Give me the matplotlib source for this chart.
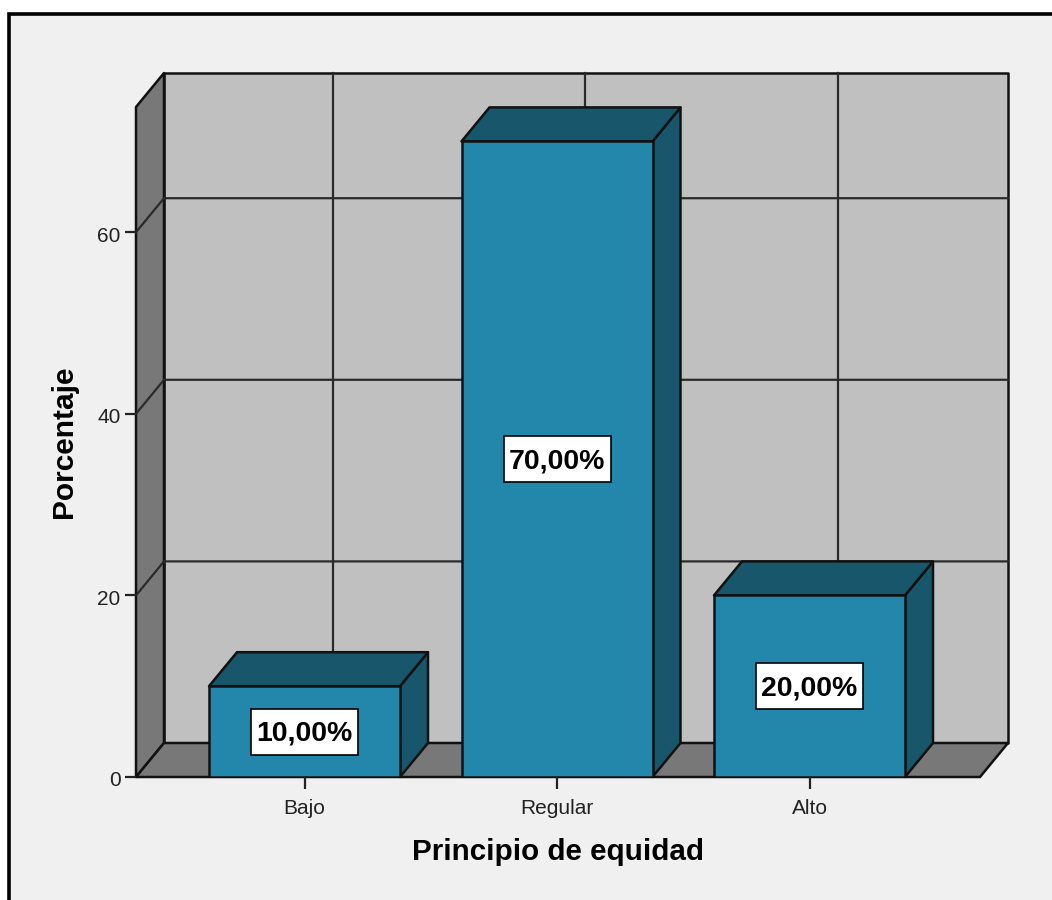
import matplotlib
matplotlib.use("Agg")
import matplotlib.pyplot as plt
from matplotlib.patches import Polygon, Rectangle
from matplotlib.transforms import ScaledTranslation

# ================= DATA =================
categories = ["Bajo", "Regular", "Alto"]
values = [10, 70, 20]
bar_labels = ["10,00%", "70,00%", "20,00%"]
y_ticks = [0, 20, 40, 60]
# ========================================

W, H = 1052, 900
DEPTH_X_PX, DEPTH_Y_PX = 28, 34
PX_PER_CAT = 252.5
PX_PER_UNIT = 9.08
LEFT, RIGHT, TOP, BOTTOM = 136, 980, 107, 777

BG = "#f0f0f0"
WALL = "#c0c0c0"
SIDE = "#787878"
FRONT = "#2387ab"
DARK = "#17566b"
LINE = "#111111"

plt.rcParams["font.family"] = ["Liberation Sans", "DejaVu Sans"]

fig = plt.figure(figsize=(W / 100, H / 100), dpi=100, facecolor="white")
fig.add_artist(Rectangle((8.5 / W, -0.01), 1.1, 1 - 13.5 / H + 0.01, transform=fig.transFigure,
                         facecolor=BG, edgecolor="black", linewidth=2.6, zorder=-1))

ax = fig.add_axes([LEFT / W, 1 - BOTTOM / H, (RIGHT - LEFT) / W, (BOTTOM - TOP) / H])
ax.patch.set_visible(False)
x0 = (LEFT - 304.5) / PX_PER_CAT
x1 = (RIGHT - 304.5) / PX_PER_CAT
ymax = (BOTTOM - TOP) / PX_PER_UNIT
ax.set_xlim(x0, x1)
ax.set_ylim(0, ymax)
dx = DEPTH_X_PX / PX_PER_CAT
dy = DEPTH_Y_PX / PX_PER_UNIT
bar_w = 191 / PX_PER_CAT
box_w = 107 / PX_PER_CAT
box_h = 46 / PX_PER_UNIT
text_shift = 2 / PX_PER_UNIT


def poly(points, color, z, lw=1.8):
    ax.add_patch(Polygon(points, closed=True, facecolor=color, edgecolor=LINE, linewidth=lw,
                         joinstyle="round", zorder=z, clip_on=False))


# back wall, side wall, floor
poly([(x0 + dx, dy), (x1 + dx, dy), (x1 + dx, ymax + dy), (x0 + dx, ymax + dy)], WALL, 1)
poly([(x0, 0), (x0 + dx, dy), (x0 + dx, ymax + dy), (x0, ymax)], SIDE, 1)
poly([(x0, 0), (x1, 0), (x1 + dx, dy), (x0 + dx, dy)], SIDE, 1)

for t in y_ticks[1:]:
    ax.plot([x0, x0 + dx, x1 + dx], [t, t + dy, t + dy], color="#2a2a2a", lw=1.6, zorder=2, clip_on=False)
for i in range(len(categories)):
    ax.plot([i + dx, i + dx], [dy, ymax + dy], color="#2a2a2a", lw=1.6, zorder=2, clip_on=False)

for i, (v, lab) in enumerate(zip(values, bar_labels)):
    a, b = i - bar_w / 2, i + bar_w / 2
    z = 3 + i
    poly([(b, 0), (b + dx, dy), (b + dx, v + dy), (b, v)], DARK, z)
    poly([(a, v), (b, v), (b + dx, v + dy), (a + dx, v + dy)], DARK, z)
    ax.bar(i, v, width=bar_w, color=FRONT, edgecolor=LINE, linewidth=1.8, zorder=z + 0.1)
    ax.add_patch(Rectangle((i - box_w / 2, v / 2 - box_h / 2), box_w, box_h, facecolor="white",
                           edgecolor="black", linewidth=1.2, zorder=9))
    ax.text(i, v / 2 - text_shift, lab, ha="center", va="center", fontsize=20.4, fontweight="bold",
            color="black", zorder=10)

for s in ax.spines.values():
    s.set_visible(False)
ax.set_xticks(range(len(categories)))
ax.set_xticklabels(categories)
ax.set_yticks(y_ticks)
ax.tick_params(axis="x", length=8.5, width=1.6, color="#222222", labelsize=15, pad=7.5, labelcolor="#222222")
ax.tick_params(axis="y", length=8, width=1.6, color="#222222", labelsize=15, pad=3, labelcolor="#222222")
for label in ax.get_yticklabels():
    label.set_transform(label.get_transform() + ScaledTranslation(0, -2 / 100, fig.dpi_scale_trans))

fig.text(557.5 / W, 1 - 852 / H, "Principio de equidad", ha="center", va="center", fontsize=21.3, fontweight="bold")
fig.text(64.5 / W, 1 - 442 / H, "Porcentaje", ha="center", va="center", rotation=90, fontsize=21.5, fontweight="bold")

fig.savefig("out.png", dpi=100, facecolor=fig.get_facecolor())
